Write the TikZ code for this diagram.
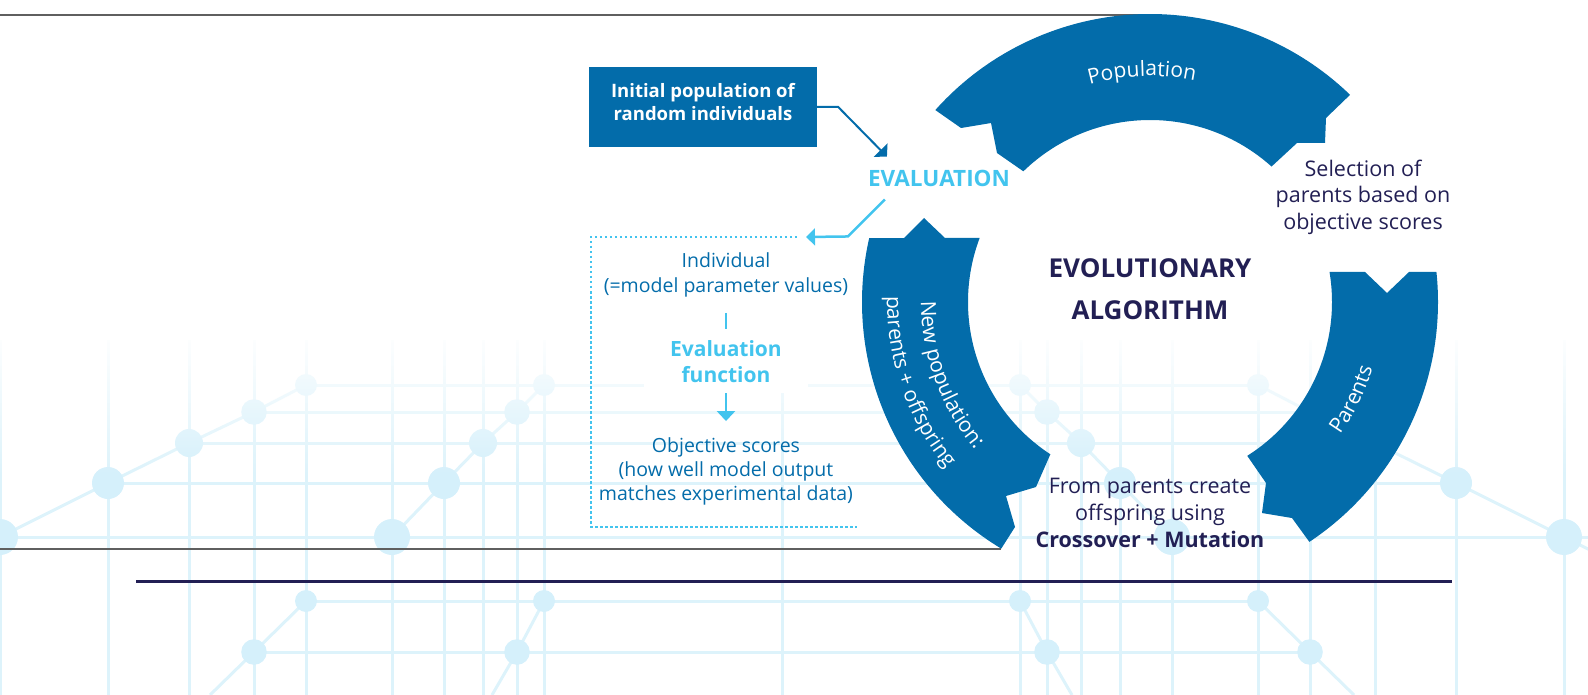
\documentclass[tikz,border=0pt]{standalone}
\usepackage{fontspec}
\setmainfont{Open Sans}
\usetikzlibrary{arrows.meta,calc,decorations.text,fadings}
\definecolor{ringblue}{RGB}{3,108,170}
\definecolor{evalblue}{RGB}{66,196,238}
\definecolor{navy}{RGB}{34,31,84}
\definecolor{gridblue}{RGB}{221,243,251}
\definecolor{dotblue}{RGB}{213,240,251}
\definecolor{rulegray}{RGB}{95,95,95}
\begin{document}
\begin{tikzpicture}[x=1pt,y=1pt]
\tikzstyle{every node}+=[inner sep=0pt]
\tikzstyle{grid}=[draw=gridblue, line width=3pt]
\tikzstyle{ring}=[fill=ringblue]
\tikzstyle{ringlabel}=[decorate, decoration={text along path, text align=center, text color=white}]
\tikzstyle{bodytext}=[font=\fontsize{19.5}{25}\selectfont, text=ringblue, align=center]
\tikzstyle{darktext}=[font=\fontsize{21.5}{26.5}\selectfont, text=navy, align=center]
\tikzstyle{darkarrow}=[draw=ringblue, line width=2pt, -{Triangle[length=9pt,width=19pt]}]
\tikzstyle{lightarrow}=[draw=evalblue, line width=2.5pt, -{Triangle[length=10pt,width=18pt]}]
\useasboundingbox (0,0) rectangle (1588,-695);
\coordinate (C) at (1150,-302);

\foreach \m in {1,-1}{
\begin{scope}[xshift={(1-\m)*782pt}, xscale=\m]
\foreach \x in {0,108,189,254,306,392,444,483,517,544,782}
  \draw[grid] (\x,-340) -- (\x,-695);
\foreach \x/\y in {306/385,254/412,189/443,108/483,-30/537,306/601,254/652}
  \draw[grid] (\x,-\y) -- (782,-\y);
\draw[grid] (306,-385) -- (254,-412) -- (189,-443) -- (108,-483) -- (0,-537) -- (-30,-552);
\draw[grid] (544,-385) -- (517,-412) -- (483,-443) -- (444,-483) -- (392,-537);
\draw[grid] (306,-601) -- (254,-652) -- (210,-695);
\draw[grid] (544,-601) -- (517,-652) -- (492,-695);
\foreach \x/\y/\r in {306/385/11,254/412/12.8,189/443/14,108/483/16,0/537/18,
  544/385/11,517/412/12.8,483/443/14,444/483/16,392/537/18,
  306/601/11,254/652/12.8,544/601/11,517/652/12.8}
  \fill[dotblue] (\x,-\y) circle (\r);
\end{scope}
}
\fill[white, path fading=south] (-5,-330) rectangle (1593,-475);

\draw[rulegray, line width=1.5pt] (0,-15) -- (1150,-15);
\draw[rulegray, line width=1.5pt] (0,-549) -- (1001,-549);
\draw[navy, line width=3pt] (136,-581) -- (1452,-581);

\fill[ring] ($(C)+(138.2:288)$) arc[start angle=138.2, end angle=46, radius=288]
  -- (1326,-118) -- (1325,-143) -- (1297,-143) -- ($(C)+(48.1:182)$)
  arc[start angle=48.1, end angle=134.1, radius=182]
  -- (997,-153) -- (991,-123) -- (961,-128) -- cycle;
\fill[ring] ($(C)+(6:288)$) -- (1409,-272) -- (1387,-293) -- (1365,-272) -- ($(C)+(9.5:182)$)
  arc[start angle=9.5, end angle=-57.7, radius=182]
  -- (1266,-483) -- (1262,-513) -- (1292,-518) -- ($(C)+(-56.4:288)$)
  arc[start angle=-56.4, end angle=6, radius=288] -- cycle;
\fill[ring] ($(C)+(167.2:288)$) -- (904,-238) -- (924,-218) -- (945,-238) -- ($(C)+(159.4:182)$)
  arc[start angle=159.4, end angle=236.8, radius=182]
  -- (1036,-487) -- (1006,-496) -- (1015,-527) -- ($(C)+(238.9:288)$)
  arc[start angle=238.9, end angle=167.2, radius=288] -- cycle;

\path[ringlabel, decoration={text={|\fontsize{21}{21}\selectfont|Population}}]
  ($(C)+(132:226)$) arc[start angle=132, end angle=52, radius=226];
\path[ringlabel, decoration={text={|\fontsize{21}{21}\selectfont|Parents}}]
  ($(C)+(-65.7:232)$) arc[start angle=-65.7, end angle=14.3, radius=232];
\path[ringlabel, decoration={text={|\fontsize{21}{21}\selectfont|New population:}}]
  ($(C)+(160:229)$) arc[start angle=160, end angle=240, radius=229];
\path[ringlabel, decoration={text={|\fontsize{21}{21}\selectfont|parents + offspring}}]
  ($(C)+(159:263)$) arc[start angle=159, end angle=239, radius=263];

\node[fill=ringblue, minimum width=228, minimum height=80] (init) at (703,-107) {};
\node[font=\fontsize{18.5}{23}\selectfont\bfseries, text=white, align=center] (inittext) at (703,-102.5)
  {Initial population of\\random individuals};
\node[font=\fontsize{22.5}{22.5}\selectfont\bfseries, text=evalblue] (eval) at (939,-178) {EVALUATION};
\coordinate (boxtop) at (806,-237);
\draw[darkarrow] (init.east) -- ++(21,0) -- ([shift={(19,13)}]eval.north west);
\draw[lightarrow, -{Triangle[length=9pt,width=17pt]}] ([shift={(17,-13)}]eval.south west) -- ++(-37,-37) -- (boxtop);
\draw[evalblue, line width=2.5pt, dash pattern=on 2.5pt off 2.5pt] (797,-237) -- (591,-237) -- (591,-527) -- (857,-527);

\node[bodytext] (indiv) at (726,-275) {Individual\\(=model parameter values)};
\node[font=\fontsize{21}{26}\selectfont\bfseries, text=evalblue, align=center, fill=white,
  minimum width=164, minimum height=63] (evalfn) at (726,-361.5) {Evaluation\\function};
\node[font=\fontsize{19.5}{24}\selectfont, text=ringblue, align=center] (obj) at (726,-471.5)
  {Objective scores\\(how well model output\\matches experimental data)};
\draw[evalblue, line width=2.5pt] ([yshift=-15.5pt]indiv.south) -- ([yshift=1pt]evalfn.north);
\draw[lightarrow] (evalfn.south) -- ([yshift=16.5pt]obj.north);

\node[darktext] (select) at (1363,-197) {Selection of\\parents based on\\objective scores};
\node[font=\fontsize{26}{42}\selectfont\bfseries, text=navy, align=center] (ea) at (1150,-289)
  {EVOLUTIONARY\\ALGORITHM};
\node[font=\fontsize{21.5}{27}\selectfont, text=navy, align=center] (cross) at (1150,-513)
  {From parents create\\offspring using\\\textbf{Crossover + Mutation}};
\end{tikzpicture}
\end{document}
